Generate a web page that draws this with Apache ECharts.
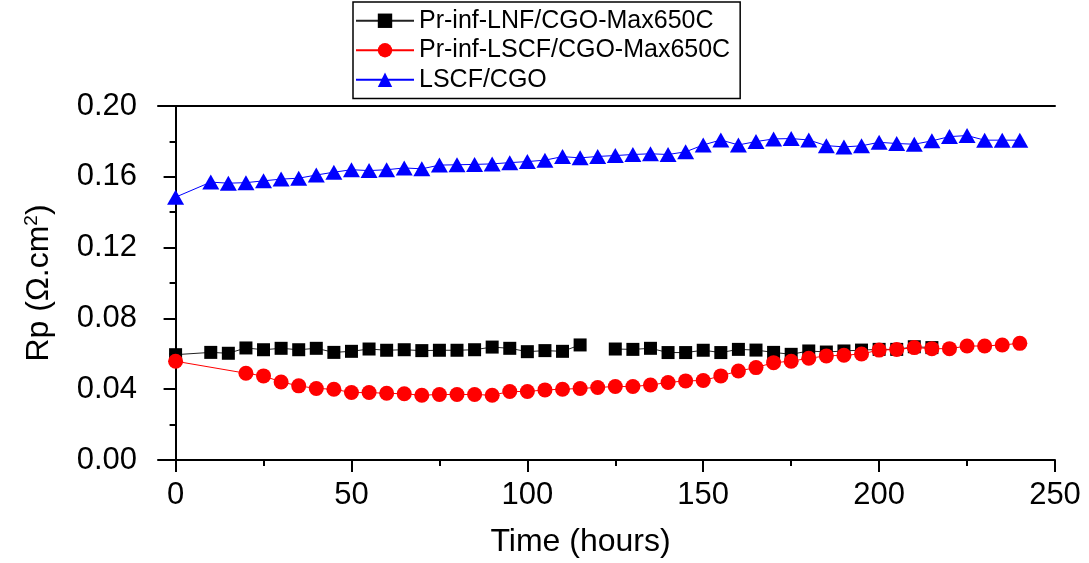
<!DOCTYPE html>
<html>
<head>
<meta charset="utf-8">
<script src="https://cdn.jsdelivr.net/npm/echarts@6/dist/echarts.min.js"></script>
<style>html,body{margin:0;padding:0;background:#fff}#c{width:1089px;height:563px}</style>
</head>
<body>
<div id="c"></div>
<script>
const seriesNames = ['Pr-inf-LNF/CGO-Max650C', 'Pr-inf-LSCF/CGO-Max650C', 'LSCF/CGO'];
const blackHours = [0,10,15,20,25,30,35,40,45,50,55,60,65,70,75,80,85,90,95,100,105,110,115,120,125,130,135,140,145,150,155,160,165,170,175,180,185,190,195,200,205,210,215];
const blackRp = [0.0595,0.0608,0.0603,0.0633,0.0623,0.0631,0.0623,0.0631,0.0608,0.0614,0.0627,0.0620,0.0623,0.0618,0.0620,0.0620,0.0623,0.0638,0.0631,0.0612,0.0618,0.0614,0.0650,null,0.0627,0.0625,0.0631,0.0607,0.0607,0.0620,0.0607,0.0625,0.0621,0.0608,0.0597,0.0616,0.0610,0.0616,0.0621,0.0625,0.0625,0.0640,0.0635];
const redHours = [0,20,25,30,35,40,45,50,55,60,65,70,75,80,85,90,95,100,105,110,115,120,125,130,135,140,145,150,155,160,165,170,175,180,185,190,195,200,205,210,215,220,225,230,235,240];
const redRp = [0.0558,0.0490,0.0475,0.0441,0.0419,0.0404,0.0400,0.0381,0.0381,0.0377,0.0374,0.0366,0.0370,0.0370,0.0370,0.0366,0.0387,0.0387,0.0396,0.0400,0.0404,0.0410,0.0415,0.0415,0.0424,0.0438,0.0447,0.0449,0.0475,0.0503,0.0522,0.0550,0.0558,0.0575,0.0588,0.0592,0.0599,0.0621,0.0624,0.0635,0.0629,0.0629,0.0644,0.0644,0.0650,0.0659];
const blueHours = [0,10,15,20,25,30,35,40,45,50,55,60,65,70,75,80,85,90,95,100,105,110,115,120,125,130,135,140,145,150,155,160,165,170,175,180,185,190,195,200,205,210,215,220,225,230,235,240];
const blueRp = [0.1485,0.1570,0.1564,0.1567,0.1577,0.1587,0.1592,0.1610,0.1626,0.1640,0.1635,0.1640,0.1650,0.1645,0.1666,0.1668,0.1670,0.1673,0.1680,0.1686,0.1694,0.1714,0.1707,0.1715,0.1720,0.1726,0.1730,0.1726,0.1741,0.1780,0.1808,0.1780,0.1799,0.1814,0.1816,0.1808,0.1776,0.1769,0.1775,0.1795,0.1788,0.1784,0.1803,0.1827,0.1833,0.1807,0.1807,0.1807];
const xMajorTicks = [0,50,100,150,200,250];
const xMinorTicks = [25,75,125,175,225];
const xTitle = 'Time (hours)';

const FONT = "'Liberation Sans', Arial, sans-serif";
const pair = (hs, vs) => hs.map((h, i) => [h, vs[i]]);
const chart = echarts.init(document.getElementById('c'), null, {renderer: 'canvas'});
const axLine = {show: true, lineStyle: {color: '#000', width: 2}};
chart.setOption({
  animation: false,
  backgroundColor: '#fff',
  grid: {left: 158, right: 34, top: 106, bottom: 102, containLabel: false},
  legend: {
    orient: 'vertical', left: 353, top: 2,
    data: seriesNames,
    borderColor: '#000', borderWidth: 1.5, padding: [4, 10, 4, 2],
    itemWidth: 58, itemHeight: 18, itemGap: 0,
    textStyle: {fontFamily: FONT, fontSize: 25, color: '#000', lineHeight: 29.5}
  },
  xAxis: [
    {type: 'value', min: -5, max: 250, position: 'bottom', axisLine: axLine,
     axisTick: {show: true, customValues: xMajorTicks, length: 12, lineStyle: {color: '#000', width: 2}},
     axisLabel: {customValues: xMajorTicks, fontFamily: FONT, fontSize: 31, color: '#000', margin: 20},
     splitLine: {show: false},
     name: xTitle, nameLocation: 'middle', nameGap: 66,
     nameTextStyle: {fontFamily: FONT, fontSize: 32, color: '#000', padding: [0, 52, 0, 0]}},
    {type: 'value', min: -5, max: 250, position: 'bottom', axisLine: {show: false},
     axisTick: {show: true, customValues: xMinorTicks, length: 6, lineStyle: {color: '#000', width: 2}},
     axisLabel: {show: false}, splitLine: {show: false}},
    {type: 'value', min: -5, max: 250, position: 'top', axisLine: axLine,
     axisTick: {show: false}, axisLabel: {show: false}, splitLine: {show: false}}
  ],
  yAxis: [
    {type: 'value', min: 0, max: 0.2, interval: 0.04, position: 'left', axisLine: axLine,
     axisTick: {show: true, length: 12, lineStyle: {color: '#000', width: 2}},
     minorTick: {show: true, splitNumber: 2, length: 6, lineStyle: {color: '#000', width: 2}},
     axisLabel: {fontFamily: FONT, fontSize: 31, color: '#000', margin: 21, formatter: v => v.toFixed(2)},
     splitLine: {show: false},
     name: '{n|Rp (Ω.cm}{s|2}{n|)}', nameLocation: 'middle', nameGap: 102,
     nameTextStyle: {rich: {
       n: {fontFamily: FONT, fontSize: 32, color: '#000'},
       s: {fontFamily: FONT, fontSize: 19, color: '#000', verticalAlign: 'top', padding: [0,0,15,0]}
     }}},
    {type: 'value', min: 0, max: 0.2, position: 'right', axisLine: axLine,
     axisTick: {show: false}, axisLabel: {show: false}, splitLine: {show: false}}
  ],
  series: [
    {name: seriesNames[0], type: 'line', data: pair(blackHours, blackRp), connectNulls: false,
     symbol: 'rect', symbolSize: 13, showAllSymbol: true,
     itemStyle: {color: '#000'}, lineStyle: {color: '#222', width: 1}},
    {name: seriesNames[1], type: 'line', data: pair(redHours, redRp),
     symbol: 'circle', symbolSize: 15, showAllSymbol: true,
     itemStyle: {color: '#ff0000'}, lineStyle: {color: '#ff0000', width: 1}},
    {name: seriesNames[2], type: 'line', data: pair(blueHours, blueRp),
     symbol: 'triangle', symbolSize: [17, 15], showAllSymbol: true,
     itemStyle: {color: '#0000ff'}, lineStyle: {color: '#0000ff', width: 1}}
  ]
});
</script>
</body>
</html>
